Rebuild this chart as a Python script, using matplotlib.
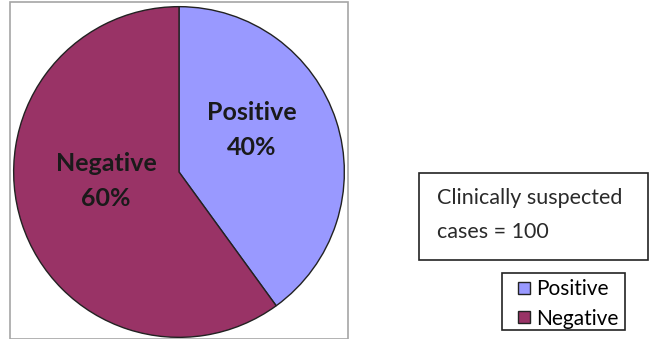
import matplotlib.pyplot as plt
from matplotlib.patches import Rectangle

labels = ['Positive', 'Negative']
values = [40, 60]
colors = ['#9999FF', '#993366']
note = 'Clinically suspected\ncases = 100'

W, H = 656, 339
fig = plt.figure(figsize=(W / 100, H / 100), dpi=100)
fig.patch.set_facecolor('white')

# gray plot-area border (bottom runs off the image)
fig.patches.append(Rectangle((10 / W, 0), 338 / W, 334 / H + 0.01,
                             transform=fig.transFigure, fill=False,
                             edgecolor='#a6a6a6', linewidth=1.2, zorder=0))

ax = fig.add_axes([12 / W, 0, 334 / W, 334 / H])
wedges, texts, autotexts = ax.pie(
    values, colors=colors, startangle=90, counterclock=False, radius=1,
    autopct=lambda p: '', pctdistance=0.5,
    wedgeprops=dict(edgecolor='#222222', linewidth=1.0))
ax.set_xlim(-1.01, 1.01)
ax.set_ylim(-1.01, 1.01)
ax.set_aspect('equal')
ax.axis('off')

for t, lab, v in zip(autotexts, labels, values):
    x, y = t.get_position()
    t.set_position((x * 0.93, y + 0.1))
    t.set_text(f'{lab}\n{v}%')
    t.set_fontsize(18)
    t.set_fontweight('bold')
    t.set_family('Lato')
    t.set_color('#1a1a1a')
    t.set_linespacing(1.6)
    t.set_ha('center')
    t.set_va('center')

# note box
fig.patches.append(Rectangle((419 / W, 1 - 260 / H), 229 / W, 87 / H,
                             transform=fig.transFigure, fill=False,
                             edgecolor='#222222', linewidth=1.2))
fig.text(437 / W, 1 - 215 / H, note, family='Lato', fontsize=15.5,
         color='#2a2a2a', ha='left', va='center', linespacing=1.9)

# legend frame drawn separately so the inner padding can match
fig.patches.append(Rectangle((502 / W, 1 - 330 / H), 123 / W, 57 / H,
                             transform=fig.transFigure, fill=False,
                             edgecolor='#222222', linewidth=1.2))
leg = fig.legend(wedges, labels, loc='upper left',
                 bbox_to_anchor=(514 / W, 1 - 275 / H),
                 prop={'family': 'Lato', 'size': 15},
                 frameon=False,
                 handlelength=0.55, handleheight=0.55, handletextpad=0.3,
                 borderpad=0.2, labelspacing=0.45, borderaxespad=0)

fig.savefig('out.png', dpi=100)
